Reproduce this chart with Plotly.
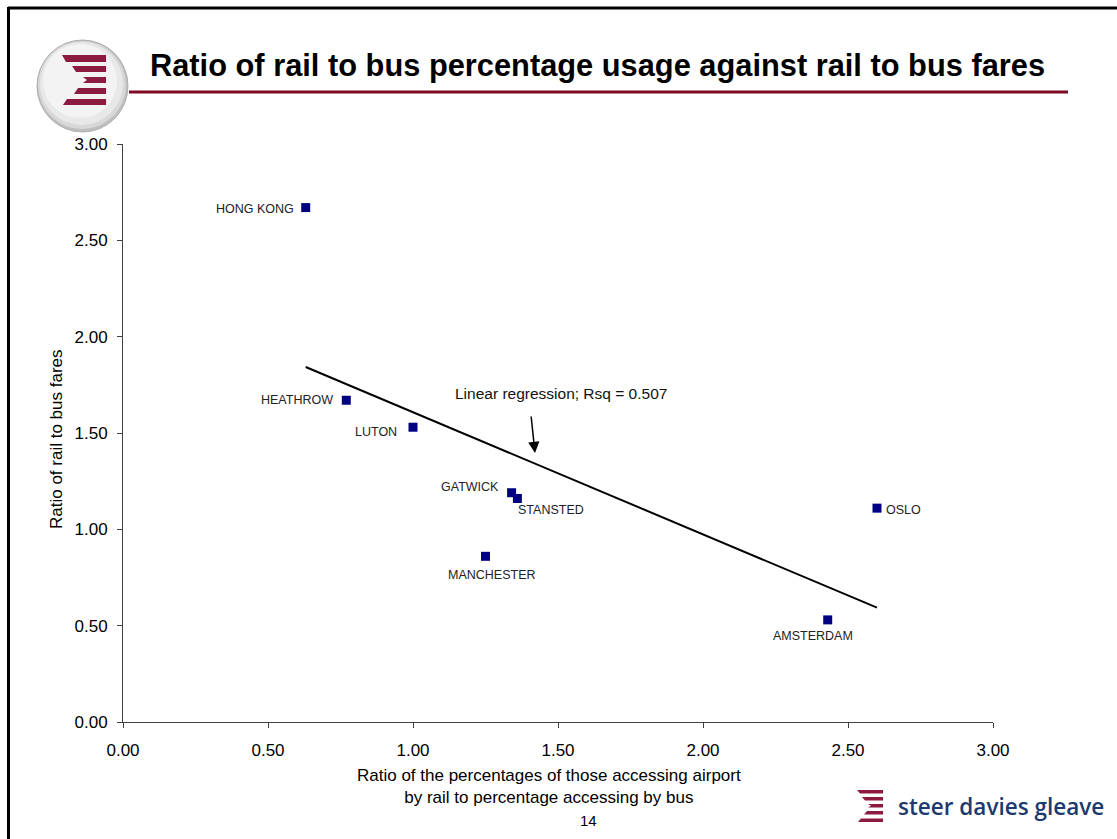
import numpy as np
import plotly.graph_objects as go

# Airport rail/bus comparison data
airports = ["HONG KONG", "HEATHROW", "LUTON", "GATWICK", "STANSTED",
            "MANCHESTER", "OSLO", "AMSTERDAM"]
usage_ratio = [0.63, 0.77, 1.00, 1.34, 1.36, 1.25, 2.60, 2.43]
fare_ratio = [2.67, 1.67, 1.53, 1.19, 1.16, 0.86, 1.11, 0.53]
tick_values = [0.0, 0.5, 1.0, 1.5, 2.0, 2.5, 3.0]

title_text = "Ratio of rail to bus percentage usage against rail to bus fares"
x_title = "Ratio of the percentages of those accessing airport<br>by rail to percentage accessing by bus"
y_title = "Ratio of rail to bus fares"
fit_label = "Linear regression; Rsq = 0.507"

# Label placement for each airport: (xanchor, xshift px, yshift px)
label_place = {
    "HONG KONG": ("right", -10, -1),
    "HEATHROW": ("right", -11, 0),
    "LUTON": ("right", -14, -5),
    "GATWICK": ("right", -11, 6),
    "STANSTED": ("left", -1, -11),
    "MANCHESTER": ("center", 6, -19),
    "OSLO": ("left", 7, -2),
    "AMSTERDAM": ("center", -15, -16),
}

W, H = 1117, 839
L, R, T, B = 123, 124, 144, 117
PW, PH = W - L - R, H - T - B
FONT = "Arial, Liberation Sans, sans-serif"
MAROON = "#7d0a22"
STRIPE = "#8c1b3f"
NAVY = "#1d3a6e"


def px(x):
    return (x - L) / PW


def py(y):
    return (H - B - y) / PH


# Least-squares fit across the observed range
slope, intercept = np.polyfit(usage_ratio, fare_ratio, 1)
fit_x = np.array([min(usage_ratio), max(usage_ratio)])
fit_y = slope * fit_x + intercept

fig = go.Figure()
fig.add_trace(go.Scatter(
    x=fit_x, y=fit_y, mode="lines",
    line=dict(color="black", width=2), hoverinfo="skip", showlegend=False,
))
fig.add_trace(go.Scatter(
    x=usage_ratio, y=fare_ratio, mode="markers", text=airports,
    marker=dict(symbol="square", size=9, color="#000080"),
    showlegend=False,
))

annotations = []
for name, xv, yv in zip(airports, usage_ratio, fare_ratio):
    anchor, dx, dy = label_place[name]
    annotations.append(dict(
        x=xv, y=yv, xref="x", yref="y", text=name, showarrow=False,
        xanchor=anchor, yanchor="middle", xshift=dx, yshift=dy,
        font=dict(family=FONT, size=12.5, color="#222222"),
    ))

# Regression call-out with arrow
annotations.append(dict(
    x=px(561), y=py(393), xref="paper", yref="paper", text=fit_label,
    showarrow=False, xanchor="center", yanchor="middle",
    font=dict(family=FONT, size=15.5, color="#111111"),
))
annotations.append(dict(
    x=(535 - L) / PW * 3, y=(H - B - 453) / PH * 3, xref="x", yref="y",
    text="", showarrow=True, ax=-4, ay=-38, arrowhead=2, arrowsize=1.5,
    arrowwidth=1.5, arrowcolor="black",
))

# Title, axis titles, page number, company name
annotations += [
    dict(x=px(148), y=py(65), xref="paper", yref="paper", text="<b>%s</b>" % title_text,
         showarrow=False, xanchor="left", yanchor="middle",
         font=dict(family=FONT, size=30.8, color="black")),
    dict(x=px(549), y=py(786), xref="paper", yref="paper", text=x_title,
         showarrow=False, xanchor="center", yanchor="middle",
         font=dict(family=FONT, size=17, color="black")),
    dict(x=px(57), y=py(439), xref="paper", yref="paper", text=y_title,
         showarrow=False, xanchor="center", yanchor="middle", textangle=-90,
         font=dict(family=FONT, size=17, color="black")),
    dict(x=px(588), y=py(820), xref="paper", yref="paper", text="14",
         showarrow=False, xanchor="center", yanchor="middle",
         font=dict(family=FONT, size=15, color="black")),
    dict(x=px(896), y=py(806), xref="paper", yref="paper", text="steer davies gleave",
         showarrow=False, xanchor="left", yanchor="middle",
         font=dict(family="Open Sans, sans-serif", size=22.5, color=NAVY, weight=600)),
]


def rect_path(pts):
    return "M " + " L ".join("%.4f,%.4f" % (px(a), py(b)) for a, b in pts) + " Z"


def stripe_icon(x0, x1, rows, slant):
    """Five stacked bars with staggered, chevron-shaped left ends."""
    paths = []
    n = len(rows)
    for i, (ya, yb, left) in enumerate(rows):
        if i < n // 2:
            pts = [(left, ya), (x1, ya), (x1, yb), (left + slant, yb)]
        elif i > n // 2:
            pts = [(left + slant, ya), (x1, ya), (x1, yb), (left, yb)]
        else:
            mid = (ya + yb) / 2
            pts = [(left, ya), (x1, ya), (x1, yb), (left, yb), (left + slant, mid)]
        paths.append(rect_path(pts))
    return paths


shapes = [
    # slide frame
    dict(type="line", xref="paper", yref="paper", x0=px(8), y0=py(8), x1=px(W + 5), y1=py(8),
         line=dict(color="black", width=3)),
    dict(type="line", xref="paper", yref="paper", x0=px(8.5), y0=py(7), x1=px(8.5), y1=py(H + 5),
         line=dict(color="black", width=3)),
    # title underline
    dict(type="line", xref="paper", yref="paper", x0=px(129), y0=py(92), x1=px(1068), y1=py(92),
         line=dict(color=MAROON, width=3)),
    # round badge behind the top-left emblem, shaded towards the lower right
    dict(type="circle", xref="paper", yref="paper", x0=px(37), y0=py(40), x1=px(128), y1=py(132),
         fillcolor="#bfbfbf", line=dict(color="#b0b0b0", width=1)),
    dict(type="circle", xref="paper", yref="paper", x0=px(38), y0=py(41), x1=px(126), y1=py(129),
         fillcolor="#d8d8d8", line=dict(width=0)),
    dict(type="circle", xref="paper", yref="paper", x0=px(40), y0=py(42), x1=px(123), y1=py(125),
         fillcolor="#e8e8e8", line=dict(width=0)),
    dict(type="circle", xref="paper", yref="paper", x0=px(43), y0=py(44), x1=px(117), y1=py(118),
         fillcolor="#f3f3f3", line=dict(width=0)),
]

top_rows = [(55, 62, 62), (66, 72, 72), (77, 83, 83), (88, 94, 74), (99, 105, 63)]
for p in stripe_icon(62, 106, top_rows, 4):
    shapes.append(dict(type="path", xref="paper", yref="paper", path=p,
                       fillcolor=STRIPE, line=dict(width=0)))

small_rows = [(790, 793.5, 857), (797, 800.5, 862), (804, 807.5, 868),
              (811, 814.5, 864), (818.5, 822, 858)]
for p in stripe_icon(857, 883, small_rows, 3):
    shapes.append(dict(type="path", xref="paper", yref="paper", path=p,
                       fillcolor=STRIPE, line=dict(width=0)))

axis_common = dict(
    range=[0, 3], tickvals=tick_values, tickformat=".2f",
    showgrid=False, zeroline=False, showline=True, linecolor="#404040", linewidth=1,
    ticks="outside", ticklen=5, tickcolor="#404040", tickwidth=1,
    tickfont=dict(family=FONT, size=17, color="black"),
)

fig.update_layout(
    width=W, height=H,
    margin=dict(l=L, r=R, t=T, b=B, pad=0),
    paper_bgcolor="white", plot_bgcolor="white",
    xaxis=dict(**axis_common, ticklabelstandoff=8),
    yaxis=dict(**axis_common, ticklabelstandoff=6),
    annotations=annotations, shapes=shapes,
    hovermode="closest",
)

fig.write_html("out.html")
